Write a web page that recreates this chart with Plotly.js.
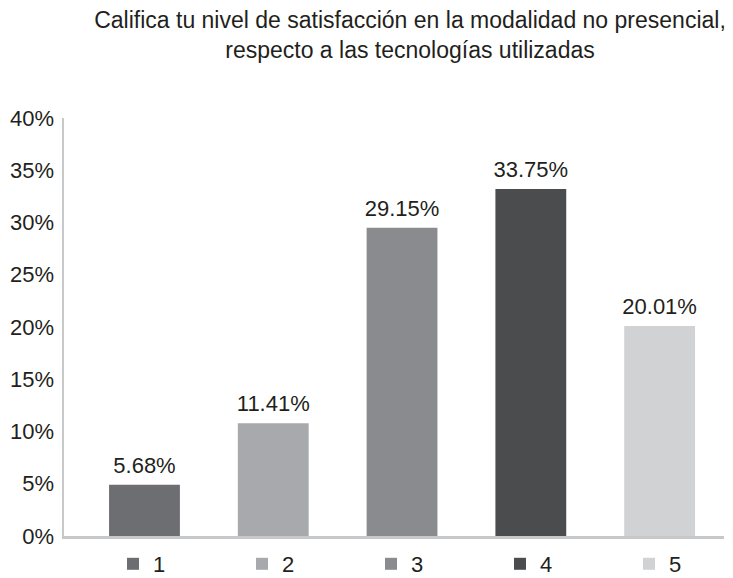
<!DOCTYPE html>
<html>
<head>
<meta charset="utf-8">
<script src="https://cdn.plot.ly/plotly-3.0.1.min.js"></script>
<style>html,body{margin:0;padding:0;background:#fff;}#chart{width:733px;height:578px;}</style>
</head>
<body>
<div id="chart"></div>
<script>
// Categories (rating levels)
const categories = ['1', '2', '3', '4', '5'];
// Bar heights as drawn in the reference (fraction)
const barHeights = [0.049, 0.108, 0.295, 0.332, 0.201];
// Printed value labels above bars
const valueLabels = ['5.68%', '11.41%', '29.15%', '33.75%', '20.01%'];
const barColors = ['#6d6e71', '#a7a9ac', '#8a8b8f', '#4b4c4e', '#d1d2d4'];
const titleText = 'Califica tu nivel de satisfacción en la modalidad no presencial,<br>respecto a las tecnologías utilizadas';

const FONT = 'Liberation Sans, Arial, Helvetica, sans-serif';
const TXT = '#231f20';

const traces = categories.map((c, i) => ({
  type: 'bar',
  name: c,
  x: [i],
  y: [barHeights[i]],
  text: [valueLabels[i]],
  textposition: 'outside',
  texttemplate: '<span style="font-size:22px">%{text}</span><br>&nbsp;',
  constraintext: 'none',
  cliponaxis: false,
  textfont: {family: FONT, size: 6, color: TXT},
  marker: {color: barColors[i]},
  width: 0.55,
  hoverinfo: 'skip'
}));

const layout = {
  width: 733, height: 578,
  margin: {l: 64, r: 9, t: 118, b: 42, autoexpand: false},
  paper_bgcolor: '#ffffff', plot_bgcolor: '#ffffff',
  font: {family: FONT, color: TXT},
  showlegend: true,
  barmode: 'overlay',
  title: {
    text: titleText,
    font: {family: FONT, size: 23, color: TXT},
    x: 410 / 733, xanchor: 'center', xref: 'container',
    y: 1 - 28 / 578, yanchor: 'top', yref: 'container'
  },
  xaxis: {
    range: [-0.625, 4.5],
    showticklabels: false, ticks: '',
    showgrid: false, zeroline: false,
    showline: true, linecolor: '#c7c8ca', linewidth: 2.5,
    fixedrange: true
  },
  yaxis: {
    range: [0, 0.40],
    dtick: 0.05, tickformat: '.0%',
    tickfont: {family: FONT, size: 22, color: TXT},
    showgrid: false, zeroline: false,
    showline: true, linecolor: '#c7c8ca', linewidth: 2.5,
    ticks: '', ticklabelstandoff: 3,
    fixedrange: true
  },
  legend: {
    orientation: 'h',
    x: 113 / 733, xanchor: 'left', xref: 'container',
    y: 35 / 578, yanchor: 'top', yref: 'container',
    entrywidth: 84, entrywidthmode: 'pixels',
    font: {family: FONT, size: 22, color: TXT},
    traceorder: 'normal',
    bgcolor: 'rgba(0,0,0,0)'
  }
};

Plotly.newPlot('chart', traces, layout, {displayModeBar: false, staticPlot: true});
</script>
</body>
</html>
